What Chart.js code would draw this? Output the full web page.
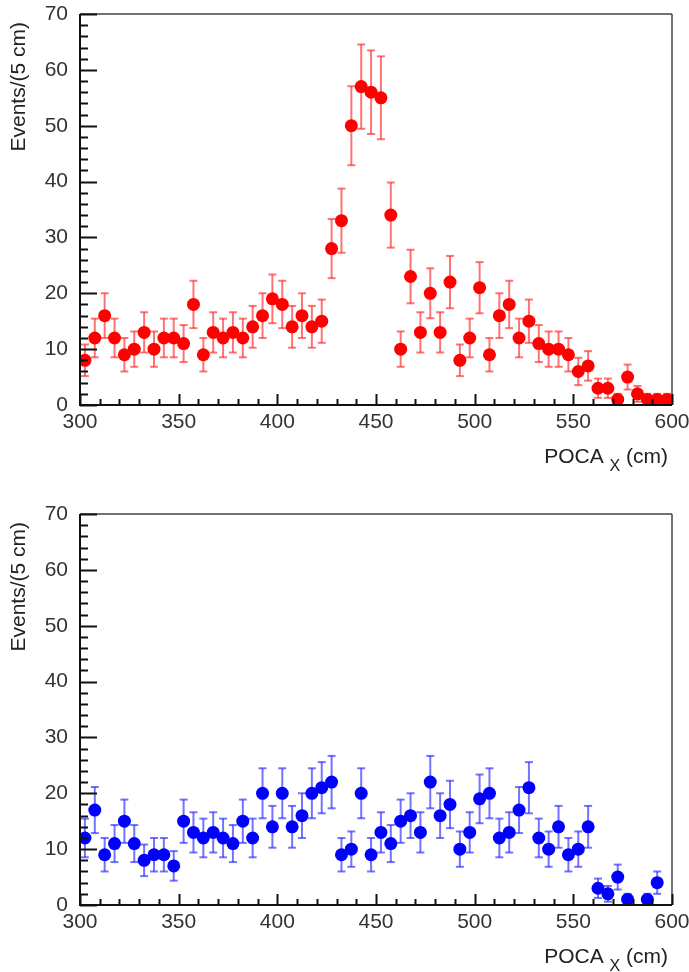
<!DOCTYPE html>
<html>
<head>
<meta charset="utf-8">
<script src="https://cdn.jsdelivr.net/npm/chart.js@4"></script>
<style>
  body { margin: 0; background: #fff; }
  canvas { display: block; }
</style>
</head>
<body>
<canvas id="topChart" width="689" height="486"></canvas>
<canvas id="bottomChart" width="689" height="486"></canvas>
<script>
// bin centres of the 5 cm bins
const binCenters = [
  302.5, 307.5, 312.5, 317.5, 322.5, 327.5, 332.5, 337.5, 342.5, 347.5,
  352.5, 357.5, 362.5, 367.5, 372.5, 377.5, 382.5, 387.5, 392.5, 397.5,
  402.5, 407.5, 412.5, 417.5, 422.5, 427.5, 432.5, 437.5, 442.5, 447.5,
  452.5, 457.5, 462.5, 467.5, 472.5, 477.5, 482.5, 487.5, 492.5, 497.5,
  502.5, 507.5, 512.5, 517.5, 522.5, 527.5, 532.5, 537.5, 542.5, 547.5,
  552.5, 557.5, 562.5, 567.5, 572.5, 577.5, 582.5, 587.5, 592.5, 597.5
];

// counts per bin (red, upper panel)
const redCounts = [
  8, 12, 16, 12, 9, 10, 13, 10, 12, 12,
  11, 18, 9, 13, 12, 13, 12, 14, 16, 19,
  18, 14, 16, 14, 15, 28, 33, 50, 57, 56,
  55, 34, 10, 23, 13, 20, 13, 22, 8, 12,
  21, 9, 16, 18, 12, 15, 11, 10, 10, 9,
  6, 7, 3, 3, 1, 5, 2, 1, 1, 1
];

// counts per bin (blue, lower panel), null = empty bin
const blueCounts = [
  12, 17, 9, 11, 15, 11, 8, 9, 9, 7,
  15, 13, 12, 13, 12, 11, 15, 12, 20, 14,
  20, 14, 16, 20, 21, 22, 9, 10, 20, 9,
  13, 11, 15, 16, 13, 22, 16, 18, 10, 13,
  19, 20, 12, 13, 17, 21, 12, 10, 14, 9,
  10, 14, 3, 2, 5, 1, null, 1, 4, null
];

const xTickValues = [300, 350, 400, 450, 500, 550, 600];
const yTickValues = [0, 10, 20, 30, 40, 50, 60, 70];

const yTitle = "Events/(5 cm)";
const xTitleMain = "POCA";
const xTitleSub = "X";
const xTitleUnit = " (cm)";

const FONT = "'Liberation Sans', Arial, Helvetica, sans-serif";

function toPoints(counts) {
  const pts = [];
  counts.forEach((c, i) => {
    if (c !== null && c > 0) pts.push({ x: binCenters[i], y: c });
  });
  return pts;
}

function line(ctx, x1, y1, x2, y2) {
  ctx.beginPath();
  ctx.moveTo(x1, y1);
  ctx.lineTo(x2, y2);
  ctx.stroke();
}

// ROOT-like frame: error bars, inward ticks, axis titles
const rootFrame = {
  id: 'rootFrame',
  beforeDatasetsDraw(chart, args, opts) {
    const ctx = chart.ctx;
    const xs = chart.scales.x, ys = chart.scales.y;
    ctx.save();
    ctx.strokeStyle = opts.errColor;
    ctx.lineWidth = 2;
    chart.data.datasets[0].data.forEach(p => {
      const e = Math.sqrt(p.y);
      const px = xs.getPixelForValue(p.x);
      const yTop = ys.getPixelForValue(Math.min(p.y + e, 70));
      const yBot = ys.getPixelForValue(Math.max(p.y - e, 0));
      line(ctx, px, yTop, px, yBot);
      if (p.y + e < 70) line(ctx, px - 4, yTop, px + 4, yTop);
      if (p.y - e > 0) line(ctx, px - 4, yBot, px + 4, yBot);
    });
    ctx.restore();
  },
  afterDraw(chart) {
    const ctx = chart.ctx;
    const a = chart.chartArea;
    const xs = chart.scales.x, ys = chart.scales.y;
    ctx.save();
    // top and right frame
    ctx.strokeStyle = '#444';
    ctx.lineWidth = 1.5;
    line(ctx, a.left, a.top, a.right, a.top);
    line(ctx, a.right, a.top, a.right, a.bottom);
    // axes
    ctx.strokeStyle = '#111';
    ctx.lineWidth = 2;
    line(ctx, a.left, a.top, a.left, a.bottom + 1);
    line(ctx, a.left - 1, a.bottom, a.right, a.bottom);
    // y ticks, minor every 2
    for (let v = 0; v <= 70; v += 2) {
      const py = Math.round(ys.getPixelForValue(v)) + 0.5;
      const len = (v % 10 === 0) ? 17 : 8;
      line(ctx, a.left, py, a.left + len, py);
    }
    // x ticks, minor every 10
    for (let v = 300; v <= 600; v += 10) {
      const px = Math.round(xs.getPixelForValue(v)) + 0.5;
      const len = (v % 50 === 0) ? 11 : 6;
      line(ctx, px, a.bottom, px, a.bottom - len);
    }

    // titles
    ctx.fillStyle = '#222';
    ctx.font = '21px ' + FONT;
    ctx.save();
    ctx.translate(19, a.top + 8);
    ctx.rotate(-Math.PI / 2);
    ctx.textAlign = 'right';
    ctx.textBaseline = 'middle';
    ctx.fillText(yTitle, 0, 0);
    ctx.restore();

    const base = a.bottom + 58;
    ctx.textBaseline = 'alphabetic';
    ctx.textAlign = 'left';
    ctx.font = '21px ' + FONT;
    const wMain = ctx.measureText(xTitleMain + ' ').width;
    const wUnit = ctx.measureText(xTitleUnit).width;
    ctx.font = '16px ' + FONT;
    const wSub = ctx.measureText(xTitleSub).width;
    const x0 = a.right - 4 - wMain - wSub - wUnit;
    ctx.font = '21px ' + FONT;
    ctx.fillText(xTitleMain + ' ', x0, base);
    ctx.fillText(xTitleUnit, x0 + wMain + wSub, base);
    ctx.font = '16px ' + FONT;
    ctx.fillText(xTitleSub, x0 + wMain, base + 8);
    ctx.restore();
  }
};

function makeChart(id, counts, color, errColor, padTop, xHeight) {
  return new Chart(document.getElementById(id), {
    type: 'scatter',
    data: {
      datasets: [{
        data: toPoints(counts),
        backgroundColor: color,
        borderWidth: 0,
        pointRadius: 6.5,
        pointHoverRadius: 6.5
      }]
    },
    options: {
      responsive: false,
      animation: false,
      devicePixelRatio: 1,
      layout: { padding: { top: padTop, right: 17, left: 0, bottom: 0 } },
      plugins: {
        legend: { display: false },
        tooltip: { enabled: false },
        rootFrame: { errColor: errColor }
      },
      scales: {
        x: {
          type: 'linear',
          min: 300, max: 600,
          afterBuildTicks: s => { s.ticks = xTickValues.map(v => ({ value: v })); },
          afterFit: s => { s.height = xHeight; s.paddingLeft = 0; s.paddingRight = 0; },
          grid: { display: false },
          border: { display: false },
          ticks: { color: '#333', padding: -3, font: { size: 21, family: FONT }, maxRotation: 0 }
        },
        y: {
          type: 'linear',
          min: 0, max: 70,
          afterBuildTicks: s => { s.ticks = yTickValues.map(v => ({ value: v })); },
          afterFit: s => { s.width = 80; s.paddingTop = 0; s.paddingBottom = 0; },
          grid: { display: false },
          border: { display: false },
          ticks: { color: '#333', padding: 4, font: { size: 21, family: FONT } }
        }
      }
    },
    plugins: [rootFrame]
  });
}

makeChart('topChart', redCounts, '#ff0000', 'rgba(255,40,40,0.65)', 14, 81);
makeChart('bottomChart', blueCounts, '#0000ff', 'rgba(40,40,255,0.65)', 28, 67);
</script>
</body>
</html>
